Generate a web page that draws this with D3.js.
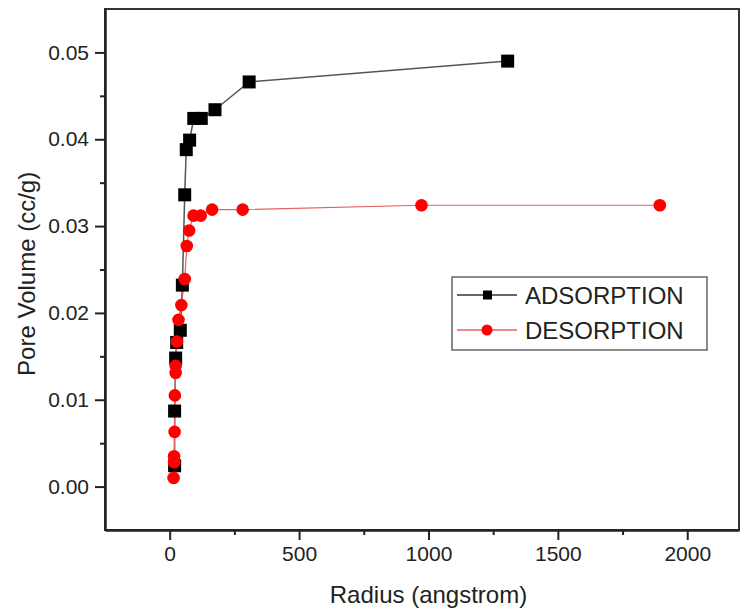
<!DOCTYPE html>
<html>
<head>
<meta charset="utf-8">
<script src="https://cdn.jsdelivr.net/npm/d3@7"></script>
<style>
  html, body { margin: 0; padding: 0; background: #fff; overflow: hidden; }
  svg { display: block; }
  text { font-family: "Liberation Sans", Arial, sans-serif; fill: #222; }
</style>
</head>
<body>
<svg width="742" height="614"></svg>
<script>
// radius (angstrom) and pore volume (cc/g)
const adsRadius = [19, 19, 23, 27, 41, 49, 58, 64, 77, 93, 122, 175, 307, 1306];
const adsVolume = [0.0024, 0.0087, 0.0148, 0.0166, 0.0180, 0.0232, 0.0336, 0.0388, 0.0399, 0.0424, 0.0424, 0.0434, 0.0466, 0.0490];

const desRadius = [15, 17, 17, 19, 20, 23, 23, 28, 34, 45, 58, 66, 75, 92, 120, 164, 282, 973, 1894];
const desVolume = [0.0010, 0.0028, 0.0035, 0.0063, 0.0105, 0.0131, 0.0139, 0.0167, 0.0192, 0.0209, 0.0239, 0.0277, 0.0295, 0.0312, 0.0312, 0.0319, 0.0319, 0.0324, 0.0324];

const xMajor = [0, 500, 1000, 1500, 2000];
const xMinor = [250, 750, 1250, 1750];
const yMajor = [0, 0.01, 0.02, 0.03, 0.04, 0.05];
const yMinor = [0.005, 0.015, 0.025, 0.035, 0.045];

const seriesNames = ['ADSORPTION', 'DESORPTION'];

const width = 742, height = 614;
const margin = {top: 9, right: 3, left: 105, bottom: 84};
const innerWidth = width - margin.left - margin.right;
const innerHeight = height - margin.top - margin.bottom;

const svg = d3.select('svg');

const xScale = d3.scaleLinear().domain([-250, 2200]).range([0, innerWidth]);
const yScale = d3.scaleLinear().domain([-0.005, 0.055]).range([innerHeight, 0]);

const g = svg.append('g')
  .attr('transform', `translate(${margin.left}, ${margin.top})`);

// frame (top + right)
g.append('rect')
  .attr('width', innerWidth).attr('height', innerHeight)
  .attr('fill', 'none').attr('stroke', '#333').attr('stroke-width', 2);

const styleAxis = sel => {
  sel.selectAll('path').attr('stroke', '#222').attr('stroke-width', 2);
  sel.selectAll('line').attr('stroke', '#222').attr('stroke-width', 2);
  sel.selectAll('text').style('font-size', '21px').attr('fill', '#333');
};
const noText = sel => sel.selectAll('text').remove();

g.append('g')
  .attr('transform', `translate(0, ${innerHeight})`)
  .call(d3.axisBottom(xScale).tickValues(xMajor).tickSize(10).tickSizeOuter(0).tickPadding(6)
    .tickFormat(d3.format('d')))
  .call(styleAxis);
g.append('g')
  .attr('transform', `translate(0, ${innerHeight})`)
  .call(d3.axisBottom(xScale).tickValues(xMinor).tickSize(5).tickSizeOuter(0))
  .call(styleAxis).call(noText);

g.append('g')
  .call(d3.axisLeft(yScale).tickValues(yMajor).tickSize(10).tickSizeOuter(0).tickPadding(6)
    .tickFormat(d3.format('.2f')))
  .call(styleAxis);
g.append('g')
  .call(d3.axisLeft(yScale).tickValues(yMinor).tickSize(5).tickSizeOuter(0))
  .call(styleAxis).call(noText);

// axis titles
svg.append('text')
  .attr('x', margin.left + xScale(1000)).attr('y', 603)
  .attr('text-anchor', 'middle').style('font-size', '24px')
  .text('Radius (angstrom)');
svg.append('text')
  .attr('transform', `translate(35, ${margin.top + yScale(0.0245)}) rotate(-90)`)
  .attr('text-anchor', 'middle').style('font-size', '24px')
  .text('Pore Volume (cc/g)');

const ads = adsRadius.map((r, i) => ({x: r, y: adsVolume[i]}));
const des = desRadius.map((r, i) => ({x: r, y: desVolume[i]}));

const line = d3.line().x(d => xScale(d.x)).y(d => yScale(d.y));

g.append('path').datum(ads)
  .attr('d', line).attr('fill', 'none')
  .attr('stroke', '#555').attr('stroke-width', 1.5);

g.append('path').datum(des)
  .attr('d', line).attr('fill', 'none')
  .attr('stroke', '#e86060').attr('stroke-width', 1.2);

const sq = 13;
g.selectAll('rect.ads').data(ads)
  .enter().append('rect').attr('class', 'ads')
  .attr('x', d => xScale(d.x) - sq / 2)
  .attr('y', d => yScale(d.y) - sq / 2)
  .attr('width', sq).attr('height', sq)
  .attr('fill', '#000');

g.selectAll('circle.des').data(des)
  .enter().append('circle').attr('class', 'des')
  .attr('cx', d => xScale(d.x))
  .attr('cy', d => yScale(d.y))
  .attr('r', 6.3)
  .attr('fill', '#ff0000');

// legend
const legend = svg.append('g').attr('transform', 'translate(452, 277)');
legend.append('rect')
  .attr('width', 255).attr('height', 73)
  .attr('fill', '#fff').attr('stroke', '#666').attr('stroke-width', 1.5);

const rows = legend.selectAll('g.row').data(seriesNames)
  .enter().append('g').attr('class', 'row')
  .attr('transform', (d, i) => `translate(0, ${18 + i * 35})`);

rows.append('line')
  .attr('x1', 5).attr('x2', 65)
  .attr('stroke', (d, i) => i === 0 ? '#333' : '#e86060')
  .attr('stroke-width', 1.3);
rows.filter((d, i) => i === 0).append('rect')
  .attr('x', 31).attr('y', -4.5).attr('width', 9).attr('height', 9).attr('fill', '#000');
rows.filter((d, i) => i === 1).append('circle')
  .attr('cx', 35).attr('r', 5.5).attr('fill', '#ff0000');
rows.append('text')
  .attr('x', 73).attr('dy', '0.36em')
  .style('font-size', '24px')
  .text(d => d);
</script>
</body>
</html>
